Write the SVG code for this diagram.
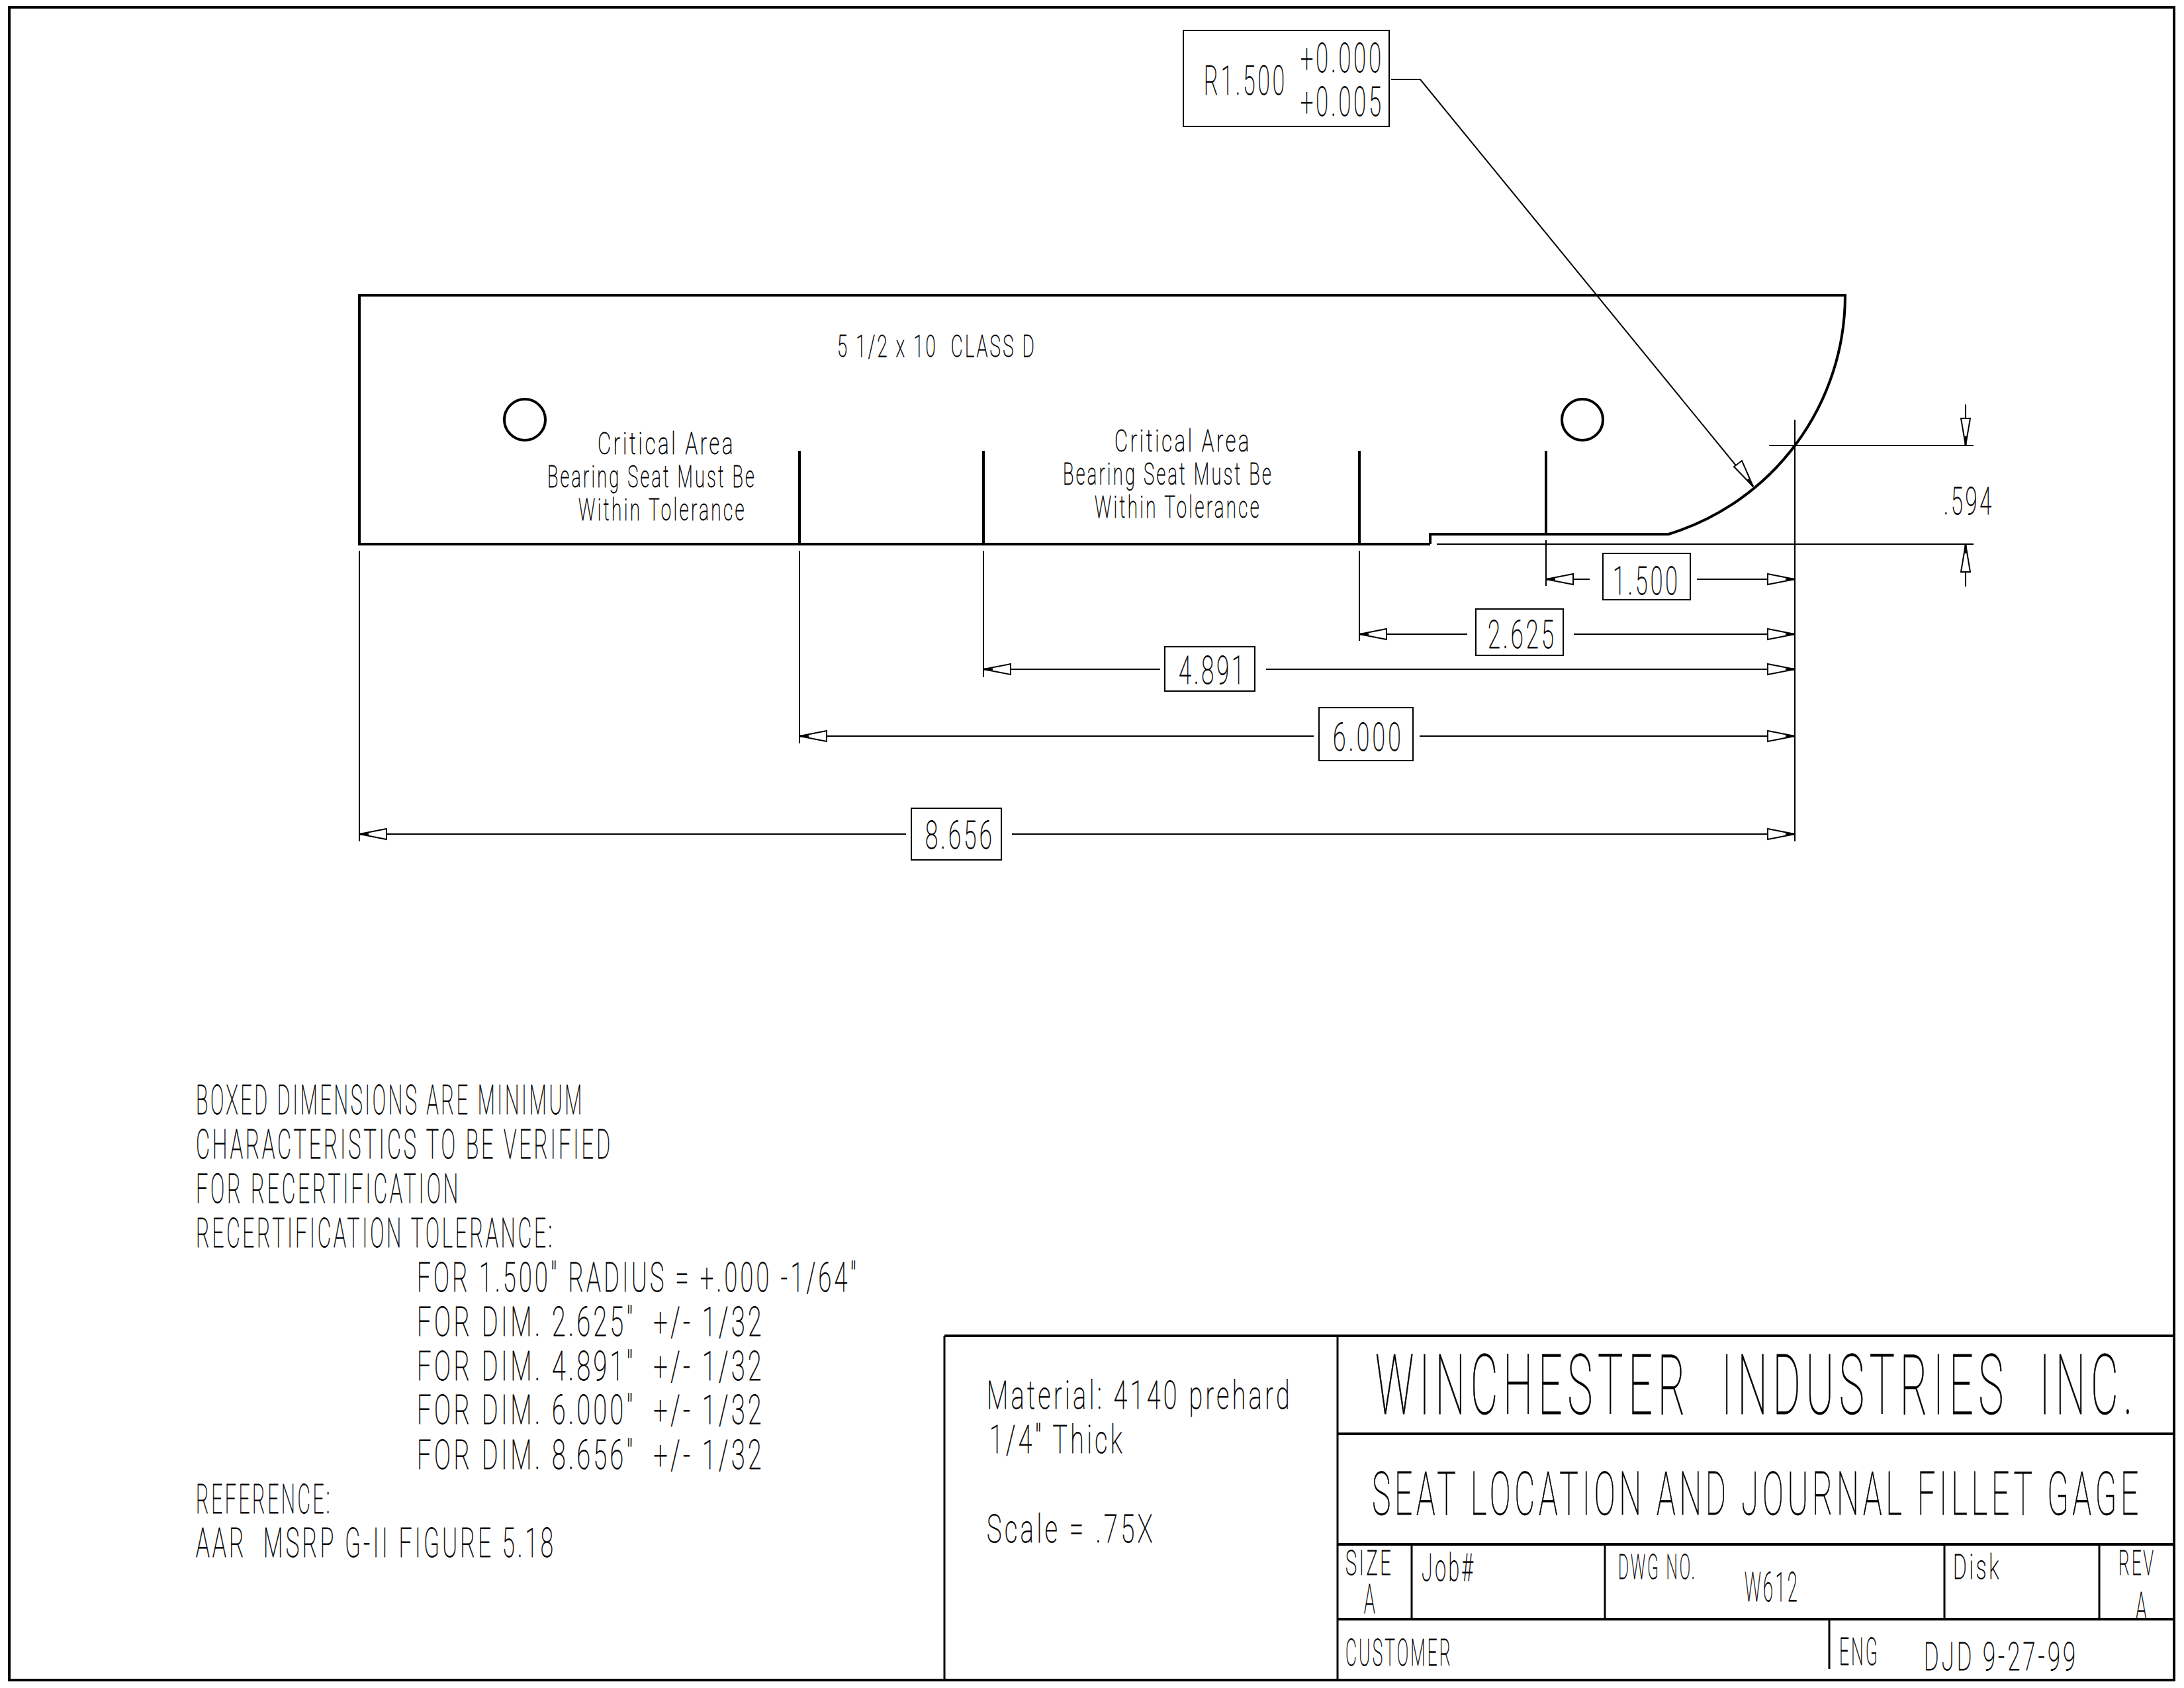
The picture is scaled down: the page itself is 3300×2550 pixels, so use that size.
<svg xmlns="http://www.w3.org/2000/svg" width="3300" height="2550" viewBox="0 0 3300 2550">
<style>
text{font-family:"Roboto","Liberation Sans",Arial,sans-serif;fill:#000;stroke:#000;stroke-width:.8;font-weight:100;white-space:pre;letter-spacing:.12em}
.th{fill:none;stroke:#000;stroke-width:2}
.md{fill:none;stroke:#000;stroke-width:3}
.tk{fill:none;stroke:#000;stroke-width:4}
.b{fill:#fff;stroke:#000;stroke-width:2}
.ah{fill:#fff;stroke:#000;stroke-width:2}
</style>
<rect width="3300" height="2550" fill="#fff"/>
<g id="frame"><rect class="tk" x="14" y="11" width="3271" height="2527"/></g>
<g id="part">
<path class="tk" d="M2161 822H543V446H2788A377.5 377.5 0 0 1 2521 807H2161V822"/>
<circle class="tk" cx="793" cy="634" r="31"/><circle class="tk" cx="2391" cy="634" r="31"/>
<path class="tk" d="M1208 681V822M1486 681V822M2054 681V822M2336 681V807"/>
</g>
<g id="connectors">
<path class="th" d="M543 832V1271M1208 832V1123M1486 832V1023M2054 832V968M2336 816V885M2712 634V1271M2673 673H2982M2171 822H2982M2970 611V673M2970 822V886"/>
<path class="th" d="M2336 875H2402M2564 875H2712M2054 958H2217M2378 958H2712M1486 1011H1753M1913 1011H2712M1208 1112H1985M2145 1112H2712M543 1260H1369M1529 1260H2712"/>
<path class="th" d="M2102 120H2146L2649 735"/>
<g id="arrows">
<path class="ah" d="M2336 875l41 -8v16zM2712 875l-41 -8v16zM2054 958l41 -8v16zM2712 958l-41 -8v16zM1486 1011l41 -8v16zM2712 1011l-41 -8v16zM1208 1112l41 -8v16zM2712 1112l-41 -8v16zM543 1260l41 -8v16zM2712 1260l-41 -8v16zM2970 673l-7 -41h14zM2970 822l-7 42h14zM2649 735l-29 -30l12 -9z"/>
<path class="md" d="M2336 875h14M2712 875h-14M2054 958h14M2712 958h-14M1486 1011h14M2712 1011h-14M1208 1112h14M2712 1112h-14M543 1260h14M2712 1260h-14M2970 673v-14M2970 822v14M2649 735l-8 -11"/>
</g>
</g>
<g id="dims">
<rect class="b" x="2422" y="836" width="132" height="70"/>
<rect class="b" x="2230" y="920" width="132" height="70"/>
<rect class="b" x="1760" y="977" width="136" height="67"/>
<rect class="b" x="1993" y="1069" width="142" height="80"/>
<rect class="b" x="1377" y="1221" width="136" height="78"/>
<text x="2437" y="898" font-size="60" textLength="102" lengthAdjust="spacingAndGlyphs">1.500</text>
<text x="2248" y="979" font-size="60" textLength="104" lengthAdjust="spacingAndGlyphs">2.625</text>
<text x="1781" y="1033" font-size="60" textLength="103" lengthAdjust="spacingAndGlyphs">4.891</text>
<text x="2014" y="1134" font-size="60" textLength="107" lengthAdjust="spacingAndGlyphs">6.000</text>
<text x="1398" y="1282" font-size="60" textLength="105" lengthAdjust="spacingAndGlyphs">8.656</text>
<text x="2937" y="777" font-size="58" textLength="76" lengthAdjust="spacingAndGlyphs">.594</text>
</g>
<g id="callout">
<rect class="b" x="1788" y="46" width="311" height="145"/>
<text x="1819" y="143" font-size="61" textLength="126" lengthAdjust="spacingAndGlyphs">R1.500</text>
<text x="1965" y="109" font-size="61" textLength="126" lengthAdjust="spacingAndGlyphs">+0.000</text>
<text x="1965" y="175" font-size="61" textLength="126" lengthAdjust="spacingAndGlyphs">+0.005</text>
</g>
<g id="part-labels">
<text x="1265" y="539" font-size="46" textLength="301" lengthAdjust="spacingAndGlyphs">5 1/2 x 10  CLASS D</text>
<text x="903" y="686" font-size="47" textLength="208" lengthAdjust="spacingAndGlyphs">Critical Area</text>
<text x="827" y="736" font-size="47" textLength="316" lengthAdjust="spacingAndGlyphs">Bearing Seat Must Be</text>
<text x="874" y="786" font-size="47" textLength="254" lengthAdjust="spacingAndGlyphs">Within Tolerance</text>
<text x="1684" y="682" font-size="47" textLength="207" lengthAdjust="spacingAndGlyphs">Critical Area</text>
<text x="1606" y="732" font-size="47" textLength="318" lengthAdjust="spacingAndGlyphs">Bearing Seat Must Be</text>
<text x="1654" y="782" font-size="47" textLength="252" lengthAdjust="spacingAndGlyphs">Within Tolerance</text>
</g>
<g id="notes" font-size="61">
<text x="296" y="1683" textLength="587" lengthAdjust="spacingAndGlyphs">BOXED DIMENSIONS ARE MINIMUM</text>
<text x="296" y="1750" textLength="630" lengthAdjust="spacingAndGlyphs">CHARACTERISTICS TO BE VERIFIED</text>
<text x="296" y="1817" textLength="400" lengthAdjust="spacingAndGlyphs">FOR RECERTIFICATION</text>
<text x="296" y="1884" textLength="542" lengthAdjust="spacingAndGlyphs">RECERTIFICATION TOLERANCE:</text>
<text x="630" y="1951" textLength="668" lengthAdjust="spacingAndGlyphs">FOR 1.500" RADIUS = +.000 -1/64"</text>
<text x="630" y="2018" textLength="525" lengthAdjust="spacingAndGlyphs">FOR DIM. 2.625"  +/- 1/32</text>
<text x="630" y="2085" textLength="525" lengthAdjust="spacingAndGlyphs">FOR DIM. 4.891"  +/- 1/32</text>
<text x="630" y="2151" textLength="525" lengthAdjust="spacingAndGlyphs">FOR DIM. 6.000"  +/- 1/32</text>
<text x="630" y="2219" textLength="525" lengthAdjust="spacingAndGlyphs">FOR DIM. 8.656"  +/- 1/32</text>
<text x="296" y="2286" textLength="206" lengthAdjust="spacingAndGlyphs">REFERENCE:</text>
<text x="296" y="2352" textLength="544" lengthAdjust="spacingAndGlyphs">AAR  MSRP G-II FIGURE 5.18</text>
</g>
<g id="title-block">
<path class="tk" d="M1427 2018H3285M2021 2166H3285M2021 2333H3285M2021 2446H3285"/>
<path class="md" d="M1427 2018V2538M2021 2018V2538M2133 2333V2446M2425 2333V2446M2938 2333V2446M3172 2333V2446M2764 2446V2521"/>
<text x="1491" y="2128" font-size="59" textLength="462" lengthAdjust="spacingAndGlyphs">Material: 4140 prehard</text>
<text x="1495" y="2195" font-size="59" textLength="205" lengthAdjust="spacingAndGlyphs">1/4" Thick</text>
<text x="1491" y="2330" font-size="59" textLength="255" lengthAdjust="spacingAndGlyphs">Scale = .75X</text>
<text x="2078" y="2136" font-size="127" textLength="1152" lengthAdjust="spacingAndGlyphs">WINCHESTER  INDUSTRIES  INC.</text>
<text x="2073" y="2288" font-size="90" textLength="1164" lengthAdjust="spacingAndGlyphs">SEAT LOCATION AND JOURNAL FILLET GAGE</text>
<text x="2033" y="2379" font-size="52" textLength="72" lengthAdjust="spacingAndGlyphs">SIZE</text>
<text x="2061" y="2437" font-size="62" textLength="20" lengthAdjust="spacingAndGlyphs">A</text>
<text x="2148" y="2388" font-size="58" textLength="81" lengthAdjust="spacingAndGlyphs">Job#</text>
<text x="2445" y="2385" font-size="52" textLength="119" lengthAdjust="spacingAndGlyphs">DWG NO.</text>
<text x="2636" y="2419" font-size="62" textLength="83" lengthAdjust="spacingAndGlyphs">W612</text>
<text x="2951" y="2385" font-size="52" textLength="73" lengthAdjust="spacingAndGlyphs">Disk</text>
<text x="3201" y="2379" font-size="52" textLength="56" lengthAdjust="spacingAndGlyphs">REV</text>
<text x="3227" y="2447" font-size="60" textLength="20" lengthAdjust="spacingAndGlyphs">A</text>
<text x="2033" y="2516" font-size="56" textLength="162" lengthAdjust="spacingAndGlyphs">CUSTOMER</text>
<text x="2779" y="2515" font-size="57" textLength="61" lengthAdjust="spacingAndGlyphs">ENG</text>
<text x="2907" y="2523" font-size="60" textLength="233" lengthAdjust="spacingAndGlyphs">DJD 9-27-99</text>
</g>
</svg>
